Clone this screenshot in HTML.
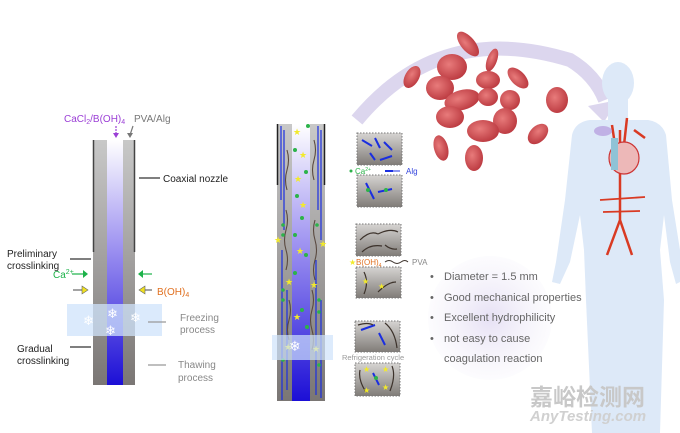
<!DOCTYPE html>
<html><head><meta charset="utf-8"><style>
body{margin:0;background:#fff}
svg{display:block;font-family:"Liberation Sans",Arial,sans-serif}
</style></head><body>
<svg width="680" height="433" viewBox="0 0 680 433" xmlns="http://www.w3.org/2000/svg">
<defs>
<linearGradient id="tubev" x1="0" y1="0" x2="0" y2="1">
<stop offset="0" stop-color="#c8c8c8"/><stop offset="1" stop-color="#7a7674"/></linearGradient>
<linearGradient id="blue" x1="0" y1="0" x2="0" y2="1">
<stop offset="0" stop-color="#ffffff"/><stop offset=".45" stop-color="#9b8ff0"/><stop offset="1" stop-color="#1c0fd6"/></linearGradient>
<linearGradient id="box" x1="0" y1="0" x2="0" y2="1">
<stop offset="0" stop-color="#d6d4d2"/><stop offset="1" stop-color="#807c78"/></linearGradient>
<radialGradient id="rbc" cx=".4" cy=".4" r=".7">
<stop offset="0" stop-color="#e87b7b"/><stop offset="1" stop-color="#b7333a"/></radialGradient>
<radialGradient id="glow" cx=".5" cy=".5" r=".5">
<stop offset="0" stop-color="#e6e0f4"/><stop offset="1" stop-color="#f2eff9" stop-opacity=".2"/></radialGradient>
</defs>

<!-- arc arrow -->
<path d="M357 120 Q440 20 570 60 Q595 75 605 100" fill="none" stroke="#dcd6ee" stroke-width="14"/>
<polygon points="588,106 618,100 604,122" fill="#dcd6ee"/>

<!-- body silhouette -->
<g fill="#dde9f8">
<ellipse cx="618" cy="83" rx="16" ry="21"/>
<rect x="608" y="98" width="20" height="22"/>
<path d="M590 120 Q575 122 572 135 L565 200 L556 262 L552 282 L560 284 L570 262 L580 215 L584 250 L586 300 L592 433 L660 433 L664 300 L660 250 L664 215 L670 262 L676 284 L680 282 L680 250 L672 200 L666 135 Q662 122 648 120 Z"/>
</g>
<!-- arteries -->
<g stroke="#d93a23" fill="none" stroke-width="2.5">
<path d="M620 130 L620 220 M620 220 L607 255 M620 220 L632 255"/>
<path d="M612 125 L615 145 M627 118 L624 145 M634 130 L645 138"/>
<path d="M600 200 L645 197 M603 212 L640 211" stroke-width="1.8"/>
</g>
<ellipse cx="624" cy="158" rx="15" ry="16" fill="#edb8b8" stroke="#c33" stroke-width="1.2"/>
<rect x="611" y="138" width="7" height="32" fill="#8fc3d6"/>
<ellipse cx="603" cy="131" rx="9" ry="5" fill="#b9a3e0" opacity=".8"/>

<!-- blood cells -->
<g fill="url(#rbc)">
<ellipse cx="412" cy="77" rx="7" ry="12" transform="rotate(30 412 77)"/>
<ellipse cx="468" cy="44" rx="7" ry="15" transform="rotate(-40 468 44)"/>
<ellipse cx="452" cy="67" rx="15" ry="13"/>
<ellipse cx="492" cy="60" rx="5" ry="12" transform="rotate(20 492 60)"/>
<ellipse cx="440" cy="88" rx="14" ry="12"/>
<ellipse cx="462" cy="100" rx="18" ry="10" transform="rotate(-15 462 100)"/>
<ellipse cx="488" cy="80" rx="12" ry="9"/>
<ellipse cx="488" cy="97" rx="10" ry="9"/>
<ellipse cx="518" cy="78" rx="7" ry="13" transform="rotate(-45 518 78)"/>
<ellipse cx="510" cy="100" rx="10" ry="10"/>
<ellipse cx="557" cy="100" rx="11" ry="13"/>
<ellipse cx="450" cy="117" rx="14" ry="11"/>
<ellipse cx="505" cy="121" rx="12" ry="13"/>
<ellipse cx="483" cy="131" rx="16" ry="11"/>
<ellipse cx="538" cy="134" rx="8" ry="12" transform="rotate(45 538 134)"/>
<ellipse cx="441" cy="148" rx="7" ry="13" transform="rotate(-15 441 148)"/>
<ellipse cx="474" cy="158" rx="9" ry="13"/>
</g>

<!-- LEFT nozzle -->
<rect x="93" y="140" width="42" height="245" fill="url(#tubev)"/>
<rect x="107" y="140" width="16" height="245" fill="url(#blue)"/>
<line x1="93.5" y1="140" x2="93.5" y2="252" stroke="#444" stroke-width="1.5"/>
<line x1="134.5" y1="140" x2="134.5" y2="252" stroke="#444" stroke-width="1.5"/>
<rect x="67" y="304" width="95" height="32" fill="#cfe3fb" opacity=".75"/>
<g fill="#fff" font-size="13">
<text x="107" y="318">❄</text><text x="83" y="325">❄</text><text x="130" y="322">❄</text><text x="105" y="335">❄</text>
</g>
<g font-size="10">
<text x="64" y="122" fill="#9b3fd6">CaCl<tspan font-size="7" dy="2">2</tspan><tspan dy="-2">/B(OH)</tspan><tspan font-size="7" dy="2">4</tspan></text>
<text x="134" y="122" fill="#777">PVA/Alg</text>
<text x="163" y="182" fill="#222">Coaxial nozzle</text>
<text x="7" y="257" fill="#222">Preliminary</text>
<text x="7" y="269" fill="#222">crosslinking</text>
<text x="53" y="278" fill="#1db24a">Ca<tspan font-size="7" dy="-4">2+</tspan></text>
<text x="157" y="295" fill="#e07020">B(OH)<tspan font-size="7" dy="2">4</tspan></text>
<text x="180" y="321" fill="#888">Freezing</text>
<text x="180" y="333" fill="#888">process</text>
<text x="17" y="352" fill="#222">Gradual</text>
<text x="17" y="364" fill="#222">crosslinking</text>
<text x="178" y="368" fill="#888">Thawing</text>
<text x="178" y="381" fill="#888">process</text>
</g>
<g stroke-width="1.2">
<line x1="116" y1="126" x2="116" y2="135" stroke="#9b3fd6" stroke-dasharray="2 1"/>
<polygon points="113,133 119,133 116,138" fill="#9b3fd6"/>
<line x1="133" y1="126" x2="130" y2="135" stroke="#777"/>
<polygon points="127,133 133,133 130,138" fill="#777"/>
<line x1="139" y1="178" x2="160" y2="178" stroke="#333"/>
<line x1="70" y1="259" x2="91" y2="259" stroke="#333"/>
<line x1="72" y1="274" x2="84" y2="274" stroke="#1db24a"/><polygon points="83,270 88,274 83,278" fill="#1db24a"/>
<line x1="142" y1="274" x2="152" y2="274" stroke="#1db24a"/><polygon points="143,270 138,274 143,278" fill="#1db24a"/>
<line x1="73" y1="290" x2="83" y2="290" stroke="#666"/><polygon points="82,286 88,290 82,294" fill="#f0e020" stroke="#666" stroke-width=".6"/>
<line x1="144" y1="290" x2="152" y2="290" stroke="#666"/><polygon points="145,286 139,290 145,294" fill="#f0e020" stroke="#666" stroke-width=".6"/>
<line x1="148" y1="322" x2="166" y2="322" stroke="#999"/>
<line x1="70" y1="347" x2="91" y2="347" stroke="#333"/>
<line x1="148" y1="365" x2="166" y2="365" stroke="#999"/>
</g>

<!-- MIDDLE tube -->
<rect x="277" y="124" width="48" height="277" fill="url(#tubev)"/>
<rect x="292" y="124" width="18" height="277" fill="url(#blue)"/>
<g stroke="#1a2ee0" stroke-width="1.2" fill="none">
<path d="M281 126 L281 200 M284 130 L284 230 M318 126 L318 210 M321 130 L321 240"/>
<path d="M282 250 L282 400 M287 290 L287 390 M316 260 L316 395 M321 300 L321 398"/>
</g>
<g stroke="#5a4a40" stroke-width="1.1" fill="none">
<path d="M287 150 q3 10 0 20 q-3 10 0 20 M314 140 q3 10 0 20 q-3 10 0 20 M286 210 q3 10 0 20 q-3 10 0 20 q3 10 0 20 M315 220 q-3 10 0 20 q3 10 0 20 q-3 10 0 20 M289 300 q3 10 0 20 q-3 10 0 20 M312 290 q3 10 0 20 q-3 10 0 20 q3 10 0 20"/>
</g>
<line x1="277.5" y1="124" x2="277.5" y2="185" stroke="#222" stroke-width="1.5"/>
<line x1="324.5" y1="124" x2="324.5" y2="185" stroke="#222" stroke-width="1.5"/>
<g fill="#2cb34a">
<circle cx="308" cy="126" r="2"/><circle cx="295" cy="150" r="2"/><circle cx="306" cy="172" r="2"/><circle cx="297" cy="196" r="2"/><circle cx="302" cy="218" r="2"/><circle cx="295" cy="235" r="2"/><circle cx="306" cy="255" r="2"/><circle cx="295" cy="273" r="2"/><circle cx="302" cy="310" r="2"/><circle cx="307" cy="327" r="2"/>
<circle cx="283" cy="225" r="1.8"/><circle cx="283" cy="235" r="1.8"/><circle cx="317" cy="225" r="1.8"/><circle cx="283" cy="290" r="1.8"/><circle cx="283" cy="300" r="1.8"/><circle cx="319" cy="300" r="1.8"/><circle cx="319" cy="312" r="1.8"/><circle cx="283" cy="360" r="1.8"/><circle cx="319" cy="365" r="1.8"/>
</g>
<g fill="#f2ea2a" font-size="9">
<text x="293" y="135">★</text><text x="299" y="158">★</text><text x="294" y="182">★</text><text x="299" y="208">★</text><text x="274" y="243">★</text><text x="319" y="247">★</text><text x="296" y="254">★</text><text x="285" y="285">★</text><text x="310" y="288">★</text><text x="293" y="320">★</text><text x="284" y="350">★</text><text x="312" y="352">★</text>
</g>
<rect x="272" y="335" width="61" height="25" fill="#cfe3fb" opacity=".7"/>
<text x="289" y="351" fill="#fff" font-size="14">❄</text>

<!-- small boxes -->
<g stroke="#777" stroke-dasharray="1.5 1.5" fill="url(#box)" stroke-width="1">
<rect x="357" y="133" width="45" height="32"/>
<rect x="357" y="175" width="45" height="32"/>
<rect x="356" y="224" width="45" height="32"/>
<rect x="356" y="267" width="45" height="31"/>
<rect x="355" y="321" width="45" height="31"/>
<rect x="355" y="363" width="45" height="33"/>
</g>
<g stroke="#1a2ee0" stroke-width="2" fill="none">
<path d="M362 140 l10 6 M375 138 l5 10 M384 142 l8 8 M370 153 l5 7 M380 160 l12 -4"/>
<path d="M366 183 l8 16 M378 192 l14 -3 M361 330 l14 -5 M379 333 l6 12 M373 373 l6 12"/>
</g>
<g stroke="#3d332c" stroke-width="1.2" fill="none">
<path d="M360 240 q10 -10 18 -6 M378 234 q12 -6 20 -2 M362 252 q8 -8 20 -6 M385 245 q6 5 12 4"/>
<path d="M364 272 q5 10 0 22 M378 292 q10 -10 18 -10 M358 325 q10 -3 15 0 M385 323 q10 8 12 25 M360 370 q-2 10 6 22 M392 366 q4 10 -2 25"/>
</g>
<g fill="#2cb34a"><circle cx="368" cy="190" r="2"/><circle cx="386" cy="190" r="2"/><circle cx="376" cy="378" r="2"/></g>
<g fill="#f2ea2a" font-size="8"><text x="362" y="284">★</text><text x="378" y="289">★</text><text x="363" y="372">★</text><text x="382" y="372">★</text><text x="363" y="393">★</text><text x="382" y="390">★</text></g>
<g font-size="8">
<circle cx="351" cy="171" r="1.5" fill="#2cb34a"/>
<text x="355" y="174" fill="#2cb34a">Ca<tspan font-size="5" dy="-3">2+</tspan></text>
<path d="M385 171 l8 0" stroke="#1a2ee0" stroke-width="2"/><path d="M393 171 l7 0" stroke="#1a2ee0"/>
<text x="406" y="174" fill="#3344dd">Alg</text>
<text x="349" y="265" fill="#f2ea2a">★</text>
<text x="356" y="265" fill="#e07020">B(OH)<tspan font-size="5" dy="2">4</tspan></text>
<path d="M385 262 q4 -3 8 0 q4 3 8 0 q4 -3 7 0" stroke="#3d332c" fill="none"/>
<text x="412" y="265" fill="#888">PVA</text>
<text x="342" y="360" fill="#999" font-size="7.5">Refrigeration cycle</text>
</g>

<!-- bullets -->
<circle cx="490" cy="318" r="62" fill="url(#glow)"/>
<g fill="#666" font-size="11">
<text x="430" y="280">•</text><text x="444" y="280">Diameter = 1.5 mm</text>
<text x="430" y="301">•</text><text x="444" y="301">Good mechanical properties</text>
<text x="430" y="321">•</text><text x="444" y="321">Excellent hydrophilicity</text>
<text x="430" y="342">•</text><text x="444" y="342">not easy to cause</text>
<text x="444" y="362">coagulation reaction</text>
</g>

<!-- watermark -->
<text x="530" y="405" font-size="23" fill="#c8c8c8" font-family="'Liberation Sans','Noto Sans CJK SC',sans-serif" font-weight="bold">嘉峪检测网</text>
<text x="530" y="421" font-size="15" fill="#d0d0d0" font-style="italic" font-weight="bold">AnyTesting.com</text>
</svg>
</body></html>
